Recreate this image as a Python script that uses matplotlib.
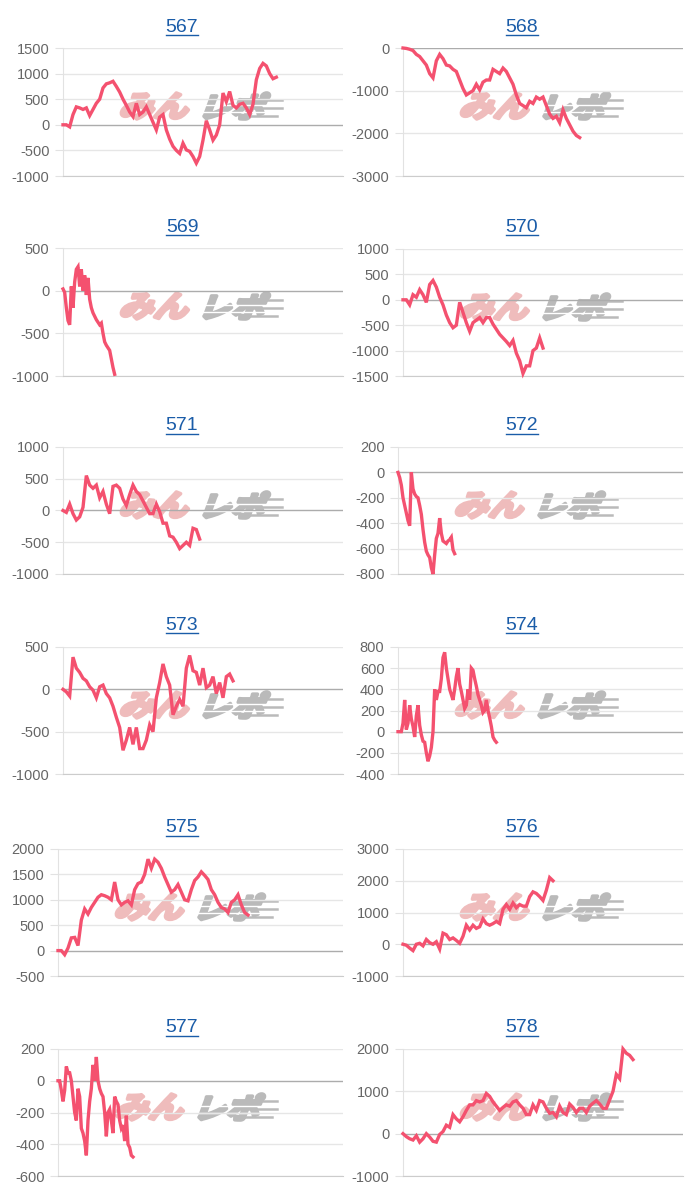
import matplotlib
matplotlib.use('Agg')
import matplotlib.pyplot as plt
import numpy as np
from matplotlib.textpath import TextPath
from matplotlib.patches import PathPatch
from matplotlib.font_manager import FontProperties
from matplotlib.transforms import Affine2D, IdentityTransform
from matplotlib.lines import Line2D

plt.rcParams['font.family'] = ['Liberation Sans', 'DejaVu Sans']
plt.rcParams['axes.unicode_minus'] = False

# 台番号
titles = ['567', '568', '569', '570', '571', '572',
          '573', '574', '575', '576', '577', '578']

# 差枚推移
s567 = [0, 0, -40, 200, 350, 330, 300, 330, 180, 300, 420, 500, 720, 800, 820, 850,
        750, 640, 500, 380, 250, 160, 420, 200, 250, 350, 200, 50, -100, 150, 200,
        -100, -280, -420, -500, -560, -360, -490, -520, -620, -750, -620, -300, 80,
        -100, -300, -200, 0, 620, 450, 650, 380, 330, 400, 420, 330, 200, 400, 880,
        1100, 1200, 1150, 1000, 900, 930]
s568 = [0, -10, -30, -60, -150, -200, -300, -400, -600, -700, -300, -150, -250, -400,
        -420, -500, -550, -750, -950, -1100, -1050, -1000, -850, -980, -800, -750,
        -750, -500, -550, -600, -470, -550, -700, -850, -1100, -1300, -1350, -1400,
        -1250, -1300, -1150, -1200, -1150, -1350, -1550, -1650, -1600, -1750, -1450,
        -1650, -1800, -1950, -2050, -2100]
s569 = [20, -20, -200, -350, -400, 50, -200, 100, 250, 280, 50, 250, 0, 180, -50, 150,
        -100, -200, -260, -300, -340, -370, -400, -380, -500, -600, -640, -670, -700,
        -800, -900, -980]
s570 = [0, 0, -100, 100, 50, 200, 100, -50, 300, 380, 250, 50, -100, -300, -450, -550,
        -500, -50, -250, -450, -620, -450, -400, -350, -450, -350, -350, -480, -580,
        -680, -750, -820, -900, -800, -1050, -1200, -1450, -1300, -1300, -1000, -950,
        -750, -950]
s571 = [0, -30, 100, -50, -150, -100, 50, 550, 400, 350, 400, 200, 300, 100, -50, 380,
        400, 350, 180, 80, 250, 400, 300, 250, 150, 50, -50, -50, 100, -20, -200, -200,
        -400, -420, -500, -600, -550, -500, -550, -280, -300, -450]
s572 = [0, -40, -100, -200, -260, -320, -380, -420, 0, -130, -170, -190, -200, -260,
        -330, -450, -550, -620, -650, -670, -750, -800, -650, -520, -480, -360, -480,
        -540, -550, -560, -540, -530, -510, -610, -640]
s573 = [0, -30, -80, 380, 250, 200, 130, 100, 30, -10, -100, 30, 50, -50, -100, -200,
        -330, -450, -720, -600, -450, -650, -450, -700, -700, -600, -420, -500, -100, 80,
        300, 150, 50, -300, -200, -120, -200, 250, 400, 220, 200, 50, 250, 20, 50, 150,
        -50, 80, -100, 150, 180, 100]
s574 = [0, 0, 0, 80, 300, 20, 80, 250, 120, 50, -50, 150, 250, 60, -30, -90, -100, -200,
        -280, -230, -150, 0, 400, 300, 380, 380, 500, 700, 750, 600, 500, 400, 350, 300,
        400, 520, 600, 450, 380, 300, 220, 250, 400, 300, 600, 580, 500, 430, 350, 300,
        250, 180, 200, 300, 200, 130, 50, -50, -80, -100]
s575 = [0, 0, -80, 50, 250, 260, 100, 600, 820, 720, 850, 950, 1050, 1100, 1080, 1050,
        1000, 1350, 1000, 900, 950, 980, 900, 1200, 1320, 1350, 1500, 1800, 1620, 1800,
        1740, 1620, 1450, 1300, 1150, 1200, 1300, 1150, 1000, 980, 1200, 1380, 1450,
        1550, 1480, 1400, 1200, 1100, 950, 850, 820, 750, 950, 1000, 1100, 900, 750, 700]
s576 = [0, -30, -120, -200, 0, 30, -50, 150, 50, 0, 80, -150, 350, 300, 150, 200, 120,
        30, 250, 600, 450, 600, 500, 550, 800, 650, 600, 650, 720, 650, 1100, 1250,
        1100, 1300, 1150, 1250, 1200, 1200, 1500, 1650, 1600, 1500, 1380, 1700, 2100,
        2000]
s577 = [0, 0, -60, -130, -60, 90, 50, 50, 0, -100, -200, -250, -50, -100, -300, -330,
        -380, -470, -250, -130, -50, 100, 0, 150, 0, -50, -80, -100, -200, -350, -200,
        -180, -250, -330, -100, -130, -150, -250, -300, -280, -380, -220, -400, -420,
        -470, -480]
s578 = [0, -70, -120, -150, -50, -200, -120, 0, -80, -180, -200, -20, 50, 200, 150, 450,
        350, 280, 400, 550, 680, 680, 780, 750, 780, 950, 880, 750, 650, 550, 620, 680,
        650, 750, 780, 680, 600, 450, 450, 680, 550, 780, 750, 600, 480, 500, 400, 650,
        500, 450, 700, 620, 500, 600, 600, 500, 650, 720, 780, 700, 600, 600, 800, 1000,
        1400, 1300, 2000, 1900, 1850, 1750]

series = [s567, s568, s569, s570, s571, s572, s573, s574, s575, s576, s577, s578]

# y軸 (min, max, step)
y_ranges = [(-1000, 1500, 500), (-3000, 0, 1000), (-1000, 500, 500), (-1500, 1000, 500),
            (-1000, 1000, 500), (-800, 200, 200), (-1000, 500, 500), (-400, 800, 200),
            (-500, 2000, 500), (-1000, 3000, 1000), (-600, 200, 200), (-1000, 2000, 1000)]

# x軸全体のスロット数
x_slots = [84, 84, 168, 84, 84, 171, 84, 171, 85.5, 84, 171, 84]

# axes boxes in pixels (left, top, right, bottom)
boxes = [(63, 48, 343, 176), (403, 48, 683, 176),
         (63, 248, 343, 376), (403, 249, 683, 376),
         (63, 447, 343, 574), (398, 447, 683, 574),
         (63, 647, 343, 774), (398, 647, 683, 774),
         (58, 849, 343, 976), (403, 849, 683, 976),
         (58, 1049, 343, 1176), (403, 1049, 683, 1176)]

W, H = 700, 1200
LINE = '#f4516f'
PINK = '#efbcbc'
GRAY = '#bababa'
fig = plt.figure(figsize=(W / 100, H / 100), dpi=100)

fp = FontProperties(family='Noto Sans CJK JP', weight='bold')
wm_a = TextPath((0, 0), 'みん', size=100, prop=fp)
wm_b = TextPath((0, 0), 'レポ', size=100, prop=fp)


def fit(path, x0, y0, w, h, slant=0.35):
    ext = path.get_extents()
    t = (Affine2D().translate(-ext.x0, -ext.y0)
         .scale(w / ext.width, h / ext.height)
         .skew(slant, 0)
         .translate(x0, y0))
    return t.transform_path(path)


def watermark(ax, l, t):
    y0 = H - (t + 71)
    pa = fit(wm_a, l + 56, y0, 66, 26)
    pb = fit(wm_b, l + 140, y0, 58, 26)
    # 太く見せるため輪郭も塗る
    ax.add_patch(PathPatch(pa, transform=IdentityTransform(), fc=PINK,
                           ec=PINK, lw=2.6, joinstyle='round', zorder=0.8))
    ax.add_patch(PathPatch(pb, transform=IdentityTransform(), fc=GRAY,
                           ec=GRAY, lw=2.6, joinstyle='round', zorder=0.8))
    # speed lines
    for dy, x1, x2 in [(52, l + 186, l + 219), (60, l + 190, l + 219), (68, l + 176, l + 214)]:
        ax.add_line(Line2D([x1, x2], [H - (t + dy)] * 2, transform=IdentityTransform(),
                           color=GRAY, lw=1.8, zorder=0.8))
    for dy in (57, 64):
        ax.add_line(Line2D([l + 140, l + 205], [H - (t + dy)] * 2, transform=IdentityTransform(),
                           color='white', lw=1.0, zorder=0.85))


title_objs = []
for i, (name, vals, (lo, hi, step), slots, (l, t, r, b)) in enumerate(
        zip(titles, series, y_ranges, x_slots, boxes)):
    ax = fig.add_axes([l / W, 1 - b / H, (r - l) / W, (b - t) / H])
    ticks = list(range(lo, hi + 1, step))
    for v in ticks:
        if v == 0:
            continue
        ax.axhline(v, color='#e6e6e6', lw=1, zorder=1)
    ax.axhline(0, color='#acacac', lw=1, zorder=1.1)
    watermark(ax, l, t)
    ax.plot(np.arange(len(vals)), vals, color=LINE, lw=2.4, zorder=3,
            solid_joinstyle='miter', clip_on=False)
    ax.set_xlim(0, slots)
    ax.set_ylim(lo, hi)
    ax.set_xticks([])
    ax.set_yticks(ticks)
    ax.set_yticklabels([str(v) for v in ticks])
    ax.tick_params(axis='y', length=5.8, width=0.8, color='#e2e2e2', pad=4,
                   labelcolor='#666666', labelsize=10.5)
    for s in ('top', 'right'):
        ax.spines[s].set_visible(False)
    ax.spines['left'].set_color('#e2e2e2')
    ax.spines['bottom'].set_color('#cccccc')
    ax.set_facecolor('none')

    cx = 182 if i % 2 == 0 else 522
    tt = fig.text(cx / W, 1 - (t - 21) / H, name, ha='center', va='center',
                  fontsize=14, color='#1a5ca8')
    title_objs.append(tt)

# 下線
fig.canvas.draw()
renderer = fig.canvas.get_renderer()
for tt in title_objs:
    bb = tt.get_window_extent(renderer)
    y = bb.y0 + 1
    fig.add_artist(Line2D([bb.x0, bb.x1], [y, y], transform=IdentityTransform(),
                          color='#1a5ca8', lw=1.0))

fig.savefig('out.png', dpi=100)
